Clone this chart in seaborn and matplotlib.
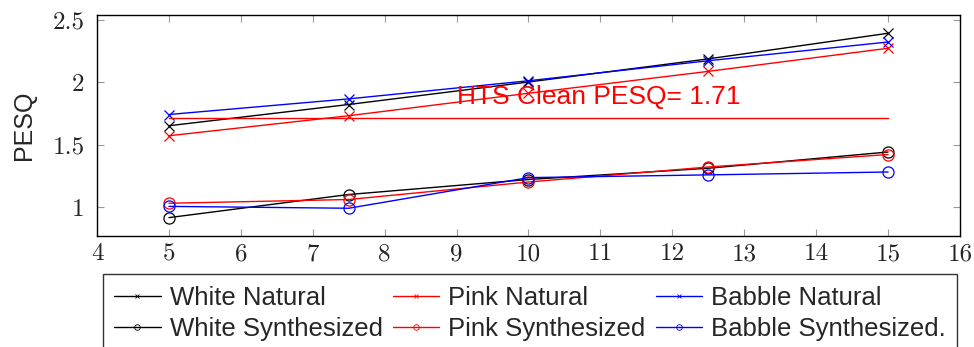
import matplotlib
matplotlib.use("Agg")
import matplotlib.pyplot as plt
import seaborn as sns
import pandas as pd
from matplotlib.lines import Line2D

snr = [5, 7.5, 10, 12.5, 15]
white_natural = [1.65, 1.82, 2.00, 2.185, 2.39]
pink_natural = [1.57, 1.73, 1.91, 2.085, 2.27]
babble_natural = [1.74, 1.865, 2.01, 2.17, 2.32]
white_synth = [0.915, 1.10, 1.22, 1.31, 1.44]
pink_synth = [1.03, 1.06, 1.20, 1.32, 1.42]
babble_synth = [1.005, 0.99, 1.235, 1.257, 1.28]
clean_x = [5, 15]
clean_y = [1.71, 1.71]
clean_label = "HTS Clean PESQ= 1.71"
x_ticks = list(range(4, 17))
y_ticks = [1, 1.5, 2, 2.5]
y_tick_labels = ["1", "1.5", "2", "2.5"]

series = [
    ("White Natural", white_natural, "black", "x"),
    ("Pink Natural", pink_natural, "red", "x"),
    ("Babble Natural", babble_natural, "blue", "x"),
    ("White Synthesized", white_synth, "black", "o"),
    ("Pink Synthesized", pink_synth, "red", "o"),
    ("Babble Synthesized.", babble_synth, "blue", "o"),
]

sns.set_theme(style="white")
plt.rcParams['font.family'] = ['Liberation Sans', 'DejaVu Sans']

fig = plt.figure(figsize=(9.74, 3.47), dpi=100)
ax = fig.add_axes([97/974, 1-236/347, (960-97)/974, (236-15)/347])

handles = {}
for name, vals, col, mk in series:
    df = pd.DataFrame({"snr": snr, "pesq": vals})
    if mk == "o":
        sns.lineplot(data=df, x="snr", y="pesq", ax=ax, color=col, lw=1.0,
                     marker="o", markersize=8, markerfacecolor="none",
                     markeredgecolor=col, markeredgewidth=0.9, legend=False)
        handles[name] = Line2D([], [], color=col, lw=1.0, marker="o", markersize=4,
                               markerfacecolor="none", markeredgecolor=col, markeredgewidth=0.6)
    else:
        sns.lineplot(data=df, x="snr", y="pesq", ax=ax, color=col, lw=1.0,
                     marker="x", markersize=6.5, markeredgecolor=col,
                     markeredgewidth=0.9, legend=False)
        handles[name] = Line2D([], [], color=col, lw=1.0, marker="x", markersize=3.5,
                               markeredgecolor=col, markeredgewidth=0.6)

sns.lineplot(x=clean_x, y=clean_y, ax=ax, color="red", lw=1.0, legend=False)
ax.text(9.0, 1.88, clean_label, color="red", fontsize=19, ha="left", va="center")

ax.set_xlim(4, 16)
ax.set_ylim(0.768, 2.536)
ax.set_xticks(x_ticks)
ax.set_yticks(y_ticks)
ax.set_xticklabels([str(v) for v in x_ticks], fontfamily="cmr10", fontsize=18)
ax.set_yticklabels(y_tick_labels, fontfamily="cmr10", fontsize=18)
ax.tick_params(direction="in", length=5, width=0.8, color="#999999",
               top=True, right=True, bottom=True, left=True)
ax.tick_params(axis="x", pad=5)
ax.tick_params(axis="y", pad=9)
for s in ax.spines.values():
    s.set_color("black")
    s.set_linewidth(1.0)
    s.set_visible(True)
ax.set_xlabel("")
ax.set_ylabel("PESQ", fontsize=18, labelpad=12)

order = ["White Natural", "White Synthesized", "Pink Natural", "Pink Synthesized",
         "Babble Natural", "Babble Synthesized."]
leg = fig.legend([handles[n] for n in order], order, loc="upper left",
                 bbox_to_anchor=(102.7/974, 1-274/347), ncol=3, fontsize=18.5,
                 frameon=True, fancybox=False, edgecolor="black", borderaxespad=0,
                 handlelength=1.8, handletextpad=0.35, columnspacing=0.4,
                 labelspacing=0.3, borderpad=0.45)
leg.get_frame().set_linewidth(1.0)

fig.savefig("out.png", dpi=100)
